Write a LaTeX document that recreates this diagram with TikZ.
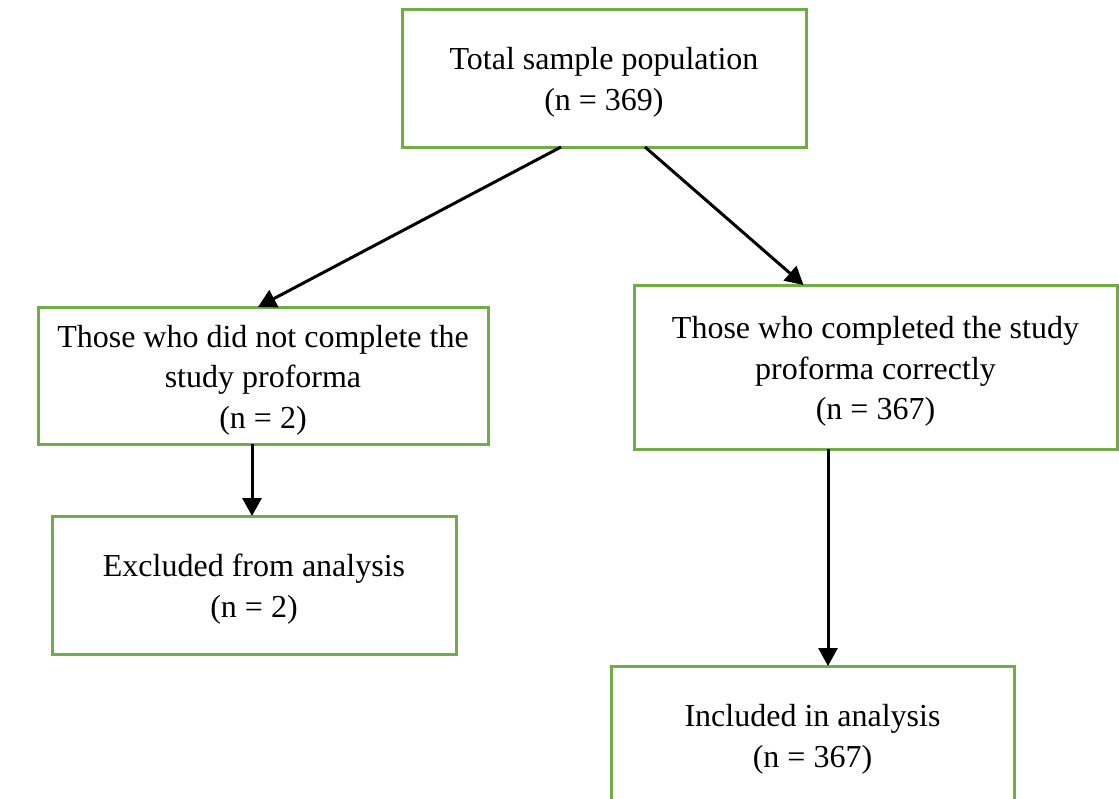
\documentclass[tikz,border=0pt]{standalone}
\usepackage{fontspec}
\setmainfont{Liberation Serif}
\usetikzlibrary{arrows.meta}
\definecolor{boxgreen}{RGB}{112,173,71}
\newcommand{\boxtext}[1]{\raisebox{-4pt}[\height][\depth]{\begin{tabular}{@{}c@{}}#1\end{tabular}}}
\begin{document}
\begin{tikzpicture}[x=1pt,y=-1pt,
  box/.style={draw=boxgreen,line width=3pt,fill=white,inner sep=0pt,outer sep=0pt,
    font=\fontsize{32}{40.5}\selectfont},
  arr/.style={line width=3pt,-{Triangle[length=18pt,width=19pt]}}]
\useasboundingbox (0,0) rectangle (1119,798);
\node[box,minimum width=404pt,minimum height=138pt] (top) at (604,78)
  {\boxtext{Total sample population\\(n = 369)}};
\node[box,minimum width=450pt,minimum height=137pt] (left) at (263,375.5)
  {\boxtext{Those who did not complete the\\study proforma\\(n = 2)}};
\node[box,minimum width=483pt,minimum height=164pt] (right) at (875.5,367)
  {\boxtext{Those who completed the study\\proforma correctly\\(n = 367)}};
\node[box,minimum width=404pt,minimum height=138pt] (excl) at (254,585)
  {\boxtext{Excluded from analysis\\(n = 2)}};
\node[box,minimum width=403pt,minimum height=138pt] (incl) at (812.5,735)
  {\boxtext{Included in analysis\\(n = 367)}};
\draw[arr] ([xshift=-43pt]top.south) -- ([xshift=-5pt]left.north);
\draw[arr] ([xshift=41pt]top.south) -- ([xshift=-72pt]right.north);
\draw[arr] ([xshift=-11pt]left.south) coordinate (a) -- (a |- excl.north);
\draw[arr] ([xshift=-47.5pt]right.south) coordinate (b) -- (b |- incl.north);
\end{tikzpicture}
\end{document}
